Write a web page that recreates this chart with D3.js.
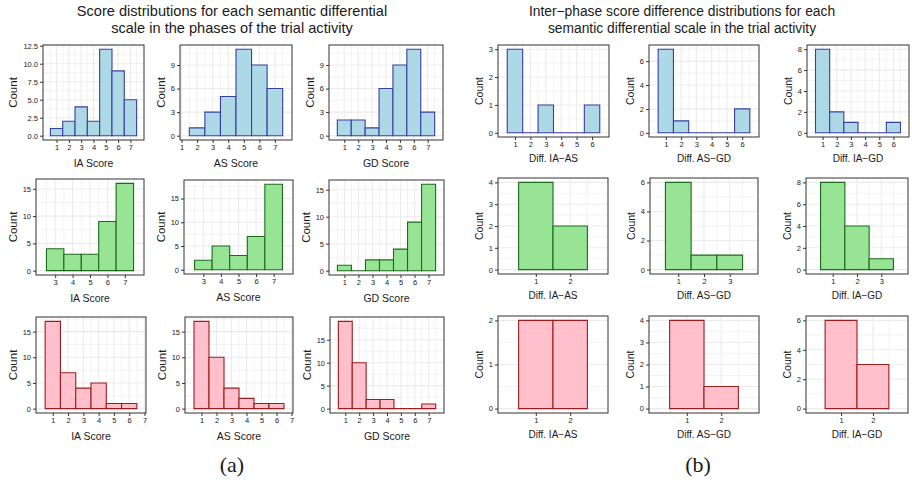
<!DOCTYPE html>
<html>
<head>
<meta charset="utf-8">
<script src="https://cdn.jsdelivr.net/npm/d3@7"></script>
<style>
  body { margin: 0; background: #fff; }
  text { font-family: "Liberation Sans", Arial, sans-serif; fill: #1a1a1a; }
</style>
</head>
<body>
<svg id="chart" width="912" height="482"></svg>
<script>
// ---- data: histogram counts, one entry per unit bin ----
const scoreBreaks = [1, 2, 3, 4, 5, 6, 7];
const scoreBreaks3 = [3, 4, 5, 6, 7];

// (a) score distributions
const blueIA = [1, 2, 4, 2, 12, 9, 5];      // bins 1..7
const blueAS = [1, 3, 5, 11, 9, 6];         // bins 2..7
const blueGD = [2, 2, 1, 6, 9, 11, 3];      // bins 1..7
const greenIA = [4, 3, 3, 9, 16];           // bins 3..7
const greenAS = [2, 5, 3, 7, 18];           // bins 3..7
const greenGD = [1, 0, 2, 2, 4, 9, 16];     // bins 1..7
const pinkIA = [17, 7, 4, 5, 1, 1];         // bins 1..6
const pinkAS = [17, 10, 4, 2, 1, 1];        // bins 1..6
const pinkGD = [19, 10, 2, 2, 0, 0, 1];     // bins 1..7

// (b) inter-phase differences, bins start at 1
const blueIAAS = [3, 0, 1, 0, 0, 1];
const blueASGD = [7, 1, 0, 0, 0, 2];
const blueIAGD = [8, 2, 1, 0, 0, 1];
const greenIAAS = [4, 2];
const greenASGD = [6, 1, 1];
const greenIAGD = [8, 4, 1];
const pinkIAAS = [2, 2];
const pinkASGD = [4, 1];
const pinkIAGD = [6, 3];
const diffBreaks6 = [1, 2, 3, 4, 5, 6];
const diffBreaks3 = [1, 2, 3];
const diffBreaks2 = [1, 2];

// y tick labels
const ticksHalf = [0, 2.5, 5, 7.5, 10, 12.5];
const ticks3 = [0, 3, 6, 9];
const ticks5 = [0, 5, 10, 15];
const ticks1to2 = [0, 1, 2];
const ticks1to3 = [0, 1, 2, 3];
const ticks1to4 = [0, 1, 2, 3, 4];
const ticks2to6 = [0, 2, 4, 6];
const ticks2to8 = [0, 2, 4, 6, 8];

const titlesLeft = ["Score distributions for each semantic differential", "scale in the phases of the trial activity"];
const titlesRight = ["Inter\u2212phase score difference distributions for each", "semantic differential scale in the trial activity"];

// ---- styling ----
const palette = {
  blue:  { fill: "#add8e6", stroke: "#3a3f9f" },
  green: { fill: "#98e495", stroke: "#1b6b1b" },
  pink:  { fill: "#ffc0cb", stroke: "#9a1d1d" }
};

// plotting area of each panel: [left, top, right, bottom]
const panels = [
  { counts: blueIA, first: 1, color: "blue", xTitle: "IA Score", xTicks: scoreBreaks, yTicks: ticksHalf, fmt: ".1f", rect: [43, 45, 144, 140] },
  { counts: blueAS, first: 2, color: "blue", xTitle: "AS Score", xTicks: scoreBreaks, yTicks: ticks3, rect: [180, 45, 292, 140] },
  { counts: blueGD, first: 1, color: "blue", xTitle: "GD Score", xTicks: scoreBreaks, yTicks: ticks3, rect: [329, 45, 443, 140] },
  { counts: greenIA, first: 3, color: "green", xTitle: "IA Score", xTicks: scoreBreaks3, yTicks: ticks5, rect: [36, 179, 144, 275] },
  { counts: greenAS, first: 3, color: "green", xTitle: "AS Score", xTicks: scoreBreaks3, yTicks: ticks5, rect: [184, 180, 293, 274] },
  { counts: greenGD, first: 1, color: "green", xTitle: "GD Score", xTicks: scoreBreaks, yTicks: ticks5, rect: [329, 180, 444, 275] },
  { counts: pinkIA, first: 1, color: "pink", xTitle: "IA Score", xTicks: scoreBreaks, yTicks: ticks5, rect: [36, 317, 146, 413] },
  { counts: pinkAS, first: 1, color: "pink", xTitle: "AS Score", xTicks: scoreBreaks, yTicks: ticks5, rect: [185, 317, 293, 413] },
  { counts: pinkGD, first: 1, color: "pink", xTitle: "GD Score", xTicks: scoreBreaks, yTicks: ticks5, rect: [330, 317, 444, 413] },

  { counts: blueIAAS, first: 1, color: "blue", xTitle: "Diff. IA\u2212AS", xTicks: diffBreaks6, yTicks: ticks1to3, diff: true, rect: [498, 45, 609, 137] },
  { counts: blueASGD, first: 1, color: "blue", xTitle: "Diff. AS\u2212GD", xTicks: diffBreaks6, yTicks: ticks2to6, diff: true, rect: [649, 45, 759, 137] },
  { counts: blueIAGD, first: 1, color: "blue", xTitle: "Diff. IA\u2212GD", xTicks: diffBreaks6, yTicks: ticks2to8, diff: true, rect: [807, 45, 909, 137] },
  { counts: greenIAAS, first: 1, color: "green", xTitle: "Diff. IA\u2212AS", xTicks: diffBreaks2, yTicks: ticks1to4, diff: true, rect: [498, 178, 608, 274] },
  { counts: greenASGD, first: 1, color: "green", xTitle: "Diff. AS\u2212GD", xTicks: diffBreaks3, yTicks: ticks2to6, diff: true, rect: [650, 178, 758, 274] },
  { counts: greenIAGD, first: 1, color: "green", xTitle: "Diff. IA\u2212GD", xTicks: diffBreaks3, yTicks: ticks2to8, diff: true, rect: [806, 178, 908, 274] },
  { counts: pinkIAAS, first: 1, color: "pink", xTitle: "Diff. IA\u2212AS", xTicks: diffBreaks2, yTicks: ticks1to2, diff: true, rect: [498, 316, 608, 413] },
  { counts: pinkASGD, first: 1, color: "pink", xTitle: "Diff. AS\u2212GD", xTicks: diffBreaks2, yTicks: ticks1to4, diff: true, rect: [649, 316, 759, 413] },
  { counts: pinkIAGD, first: 1, color: "pink", xTitle: "Diff. IA\u2212GD", xTicks: diffBreaks2, yTicks: ticks2to6, diff: true, rect: [806, 316, 908, 413] }
];

const svg = d3.select("#chart");
const gridColor = "#ebebeb";
const padX = 0.6; // x-range padding around the bins, in bin units

function drawPanel(p) {
  const [l, t, r, b] = p.rect;
  const w = r - l, h = b - t;
  const bins = p.counts.map((c, i) => ({ x: p.first + i, n: c }));
  const lo = p.first - 0.5, hi = p.first + p.counts.length - 0.5;

  const x = d3.scaleLinear().domain([lo - padX, hi + padX]).range([0, w]);
  const yMax = d3.max(p.counts);
  const y = d3.scaleLinear().domain([-0.05 * yMax, yMax * 1.05]).range([h, 0]);

  const xBreaks = p.xTicks.filter(v => v >= x.domain()[0] && v <= x.domain()[1]);
  const step = p.yTicks[1] - p.yTicks[0];
  const yMinor = d3.range(p.yTicks[0] - step / 2, y.domain()[1], step).filter(v => v > y.domain()[0]);
  const xMinor = d3.range(xBreaks[0] - 0.5, x.domain()[1], 1).filter(v => v > x.domain()[0]);

  const g = svg.append("g").attr("transform", `translate(${l},${t})`);
  g.append("rect").attr("width", w).attr("height", h).attr("fill", "#fff");

  g.selectAll(".ymin").data(yMinor).join("line")
    .attr("x1", 0).attr("x2", w).attr("y1", d => y(d)).attr("y2", d => y(d))
    .attr("stroke", gridColor).attr("stroke-width", 0.6);
  g.selectAll(".xmin").data(xMinor).join("line")
    .attr("y1", 0).attr("y2", h).attr("x1", d => x(d)).attr("x2", d => x(d))
    .attr("stroke", gridColor).attr("stroke-width", 0.6);
  g.selectAll(".ymaj").data(p.yTicks).join("line")
    .attr("x1", 0).attr("x2", w).attr("y1", d => y(d)).attr("y2", d => y(d))
    .attr("stroke", gridColor).attr("stroke-width", 1.1);
  g.selectAll(".xmaj").data(xBreaks).join("line")
    .attr("y1", 0).attr("y2", h).attr("x1", d => x(d)).attr("x2", d => x(d))
    .attr("stroke", gridColor).attr("stroke-width", 1.1);

  // bars as closed paths so empty bins still show a flat line
  const col = palette[p.color];
  g.selectAll(".bar").data(bins).join("path")
    .attr("d", d => {
      const x0 = x(d.x - 0.5), x1 = x(d.x + 0.5), y0 = y(0), y1 = y(d.n);
      return `M${x0},${y0}V${y1}H${x1}V${y0}Z`;
    })
    .attr("fill", col.fill)
    .attr("stroke", col.stroke)
    .attr("stroke-width", 1.1);

  g.append("rect").attr("width", w).attr("height", h)
    .attr("fill", "none").attr("stroke", "#333").attr("stroke-width", 1);

  const fmt = d3.format(p.fmt || "d");
  const yAxis = g.append("g")
    .call(d3.axisLeft(y).tickValues(p.yTicks).tickFormat(fmt).tickSize(3).tickPadding(2));
  const xAxis = g.append("g").attr("transform", `translate(0,${h})`)
    .call(d3.axisBottom(x).tickValues(xBreaks).tickFormat(d3.format("d")).tickSize(3).tickPadding(2));
  [yAxis, xAxis].forEach(a => {
    a.select(".domain").remove();
    a.selectAll(".tick line").attr("stroke", "#333");
    a.selectAll(".tick text").attr("fill", "#4d4d4d").style("font-size", "7.5px")
      .style("font-family", "'Liberation Sans', Arial, sans-serif");
  });

  const labelW = d3.max(yAxis.selectAll(".tick text").nodes(), n => n.getComputedTextLength());
  g.append("text")
    .attr("transform", `translate(${-5 - labelW - 6},${h / 2}) rotate(-90)`)
    .attr("text-anchor", "middle")
    .style("font-size", p.diff ? "10.5px" : "11.5px")
    .text("Count");

  g.append("text")
    .attr("x", w / 2).attr("y", h + (p.diff ? 25 : 27))
    .attr("text-anchor", "middle")
    .style("font-size", p.diff ? "10px" : "10.5px")
    .text(p.xTitle);
}

panels.forEach(drawPanel);

// header titles
[[titlesLeft, 232, 14.6, 16.5], [titlesRight, 682, 13.8, 16.5]].forEach(([lines, cx, fs, lh]) => {
  svg.append("g").selectAll("text").data(lines).join("text")
    .attr("x", cx).attr("y", (d, i) => 16 + i * lh)
    .attr("text-anchor", "middle")
    .style("font-size", fs + "px")
    .text(d => d);
});

// sub-figure captions
svg.selectAll(".cap").data([["(a)", 232], ["(b)", 698]]).join("text")
  .attr("x", d => d[1]).attr("y", 472)
  .attr("text-anchor", "middle")
  .style("font-family", "'Liberation Serif', 'Times New Roman', serif")
  .style("font-size", "22px")
  .text(d => d[0]);
</script>
</body>
</html>
